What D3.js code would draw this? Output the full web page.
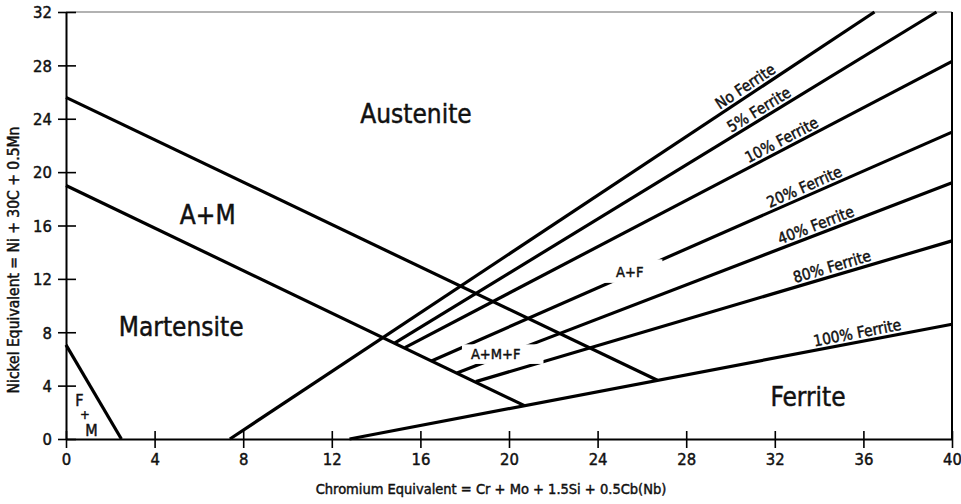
<!DOCTYPE html>
<html>
<head>
<meta charset="utf-8">
<script src="https://cdn.jsdelivr.net/npm/d3@7"></script>
<style>
  html, body { margin: 0; padding: 0; background: #fff; }
  svg { display: block; font-family: "DejaVu Sans Condensed", "DejaVu Sans", sans-serif; font-stretch: condensed; }
  svg text { stroke: #111; stroke-width: 0.45px; }
</style>
</head>
<body>
<svg id="chart" width="961" height="504"></svg>
<script>
// Schaeffler constitution diagram for stainless steel weld metal

// Axis ticks
const crTicks = [0, 4, 8, 12, 16, 20, 24, 28, 32, 36, 40];
const niTicks = [0, 4, 8, 12, 16, 20, 24, 28, 32];

// Iso-ferrite lines (Cr-eq, Ni-eq end points)
const ferriteNames   = ["No Ferrite", "5% Ferrite", "10% Ferrite", "20% Ferrite", "40% Ferrite", "80% Ferrite", "100% Ferrite"];
const ferriteStartCr = [7.4, 14.85, 15.3, 16.5, 17.65, 18.5, 12.8];
const ferriteStartNi = [0,   7.2,   6.85, 5.85, 4.95,  4.3,  0];
const ferriteEndCr   = [36.5, 39.3, 40,   40,   40,    40,   40];
const ferriteEndNi   = [32,   32,   28.3, 23.0, 19.2,  14.85, 8.6];
// Where along each line (Cr-eq) its name is written
const ferriteLabelCr = [30.9, 31.5, 32.5, 33.5, 34.0, 34.7, 35.8];

// Phase boundaries of the martensite field
const boundaryStartCr = [0,    0,    0];
const boundaryStartNi = [25.6, 19.0, 7.05];
const boundaryEndCr   = [26.7, 20.7, 2.5];
const boundaryEndNi   = [4.4,  2.5,  0];

// Phase field names (anchor = text centre, baseline)
const regionNames = ["Austenite", "A+M", "Martensite", "Ferrite", "A+F", "A+M+F"];
const regionCr    = [15.8, 6.4,  5.2,  33.5, 25.45, 19.4];
const regionNi    = [23.7, 16.1, 7.75, 2.5,  12.15, 6.0];

// Small stacked "F + M" field name
const fmText = ["F", "+", "M"];
const fmCr   = [0.6, 0.85, 1.15];
const fmNi   = [2.45, 1.5, 0.2];

const W = 961, H = 504;
const margin = { top: 12, right: 9, bottom: 65, left: 66 };

const x = d3.scaleLinear().domain([0, 40]).range([margin.left, W - margin.right]);
const y = d3.scaleLinear().domain([0, 32]).range([H - margin.bottom, margin.top]);

const svg = d3.select("#chart");

// Frame: thin top edge, solid right edge
svg.append("line")
  .attr("x1", x(0)).attr("x2", x(40)).attr("y1", y(32)).attr("y2", y(32))
  .attr("stroke", "#666").attr("stroke-width", 1.2);
svg.append("line")
  .attr("x1", x(40)).attr("x2", x(40)).attr("y1", y(32)).attr("y2", y(0))
  .attr("stroke", "#000").attr("stroke-width", 2);

// X axis
const gx = svg.append("g")
  .attr("transform", `translate(0,${y(0)})`)
  .call(d3.axisBottom(x).tickValues(crTicks).tickFormat(d3.format("d")).tickSizeOuter(0));
gx.attr("font-family", null).attr("font-size", null);
gx.select(".domain").attr("stroke", "#000").attr("stroke-width", 2);
gx.selectAll(".tick line").attr("y1", -8).attr("y2", 9).attr("stroke", "#000").attr("stroke-width", 1.6);
gx.selectAll(".tick text").attr("y", 14).attr("dy", "0.71em").attr("font-size", 16.5).attr("fill", "#111");

// Y axis
const gy = svg.append("g")
  .attr("transform", `translate(${x(0)},0)`)
  .call(d3.axisLeft(y).tickValues(niTicks).tickFormat(d3.format("d")).tickSizeOuter(0));
gy.attr("font-family", null).attr("font-size", null);
gy.select(".domain").attr("stroke", "#000").attr("stroke-width", 2);
gy.selectAll(".tick line").attr("x1", 10).attr("x2", -8).attr("stroke", "#000").attr("stroke-width", 1.6);
gy.selectAll(".tick text").attr("x", -14).attr("dy", "0.35em").attr("font-size", 16.5).attr("fill", "#111");

// Axis titles
svg.append("text")
  .attr("x", 491).attr("y", 494)
  .attr("text-anchor", "middle").attr("font-size", 14.5).attr("fill", "#111")
  .text("Chromium Equivalent = Cr + Mo + 1.5Si + 0.5Cb(Nb)");
svg.append("text")
  .attr("transform", `translate(19,${260}) rotate(-90)`)
  .attr("text-anchor", "middle").attr("font-size", 15.5).attr("fill", "#111")
  .text("Nickel Equivalent = Ni + 30C + 0.5Mn");

// Phase boundaries
const boundaries = boundaryStartCr.map((d, i) => [[d, boundaryStartNi[i]], [boundaryEndCr[i], boundaryEndNi[i]]]);
const ferrite = ferriteNames.map((name, i) => ({
  name,
  pts: [[ferriteStartCr[i], ferriteStartNi[i]], [ferriteEndCr[i], ferriteEndNi[i]]],
  labelCr: ferriteLabelCr[i]
}));

const line = d3.line().x(d => x(d[0])).y(d => y(d[1]));
const plot = svg.append("g").attr("fill", "none").attr("stroke", "#000").attr("stroke-width", 3.2);
plot.selectAll("path.boundary").data(boundaries).join("path")
  .attr("class", "boundary").attr("d", line);
plot.selectAll("path.ferrite").data(ferrite).join("path")
  .attr("class", "ferrite").attr("d", d => line(d.pts));

// Iso-ferrite names, written along their lines
const fl = svg.append("g").attr("font-size", 15.5).attr("fill", "#111");
ferrite.forEach(f => {
  const [p0, p1] = f.pts;
  const t = (f.labelCr - p0[0]) / (p1[0] - p0[0]);
  const ni = p0[1] + t * (p1[1] - p0[1]);
  const ang = Math.atan2(y(p1[1]) - y(p0[1]), x(p1[0]) - x(p0[0])) * 180 / Math.PI;
  fl.append("text")
    .attr("transform", `translate(${x(f.labelCr)},${y(ni)}) rotate(${ang})`)
    .attr("y", -4)
    .attr("text-anchor", "middle")
    .text(f.name);
});

// Phase field names; the two small ones sit on a white patch over the lines
const bigSize = 26, smallSize = 14.5;
const patchPad = { "A+F": [13, 19, 7, 6], "A+M+F": [9, 23, 4, 5] };
regionNames.forEach((name, i) => {
  const small = name in patchPad;
  const g = svg.append("g");
  const txt = g.append("text")
    .attr("x", x(regionCr[i])).attr("y", y(regionNi[i]))
    .attr("text-anchor", "middle")
    .attr("font-size", small ? smallSize : bigSize)
    .attr("fill", "#111")
    .text(name);
  if (small) {
    const b = txt.node().getBBox();
    const [pl, pr, pt, pb] = patchPad[name];
    const capTop = y(regionNi[i]) - smallSize * 0.73;
    g.insert("rect", "text")
      .attr("x", b.x - pl).attr("y", capTop - pt)
      .attr("width", b.width + pl + pr)
      .attr("height", smallSize * 0.73 + pt + pb)
      .attr("fill", "#fff").attr("stroke", "none");
  }
});

svg.append("g").attr("fill", "#111").attr("text-anchor", "middle")
  .selectAll("text").data(fmText).join("text")
  .attr("font-size", (d, i) => i === 1 ? 13 : 16)
  .attr("x", (d, i) => x(fmCr[i])).attr("y", (d, i) => y(fmNi[i]))
  .text(d => d);
</script>
</body>
</html>
